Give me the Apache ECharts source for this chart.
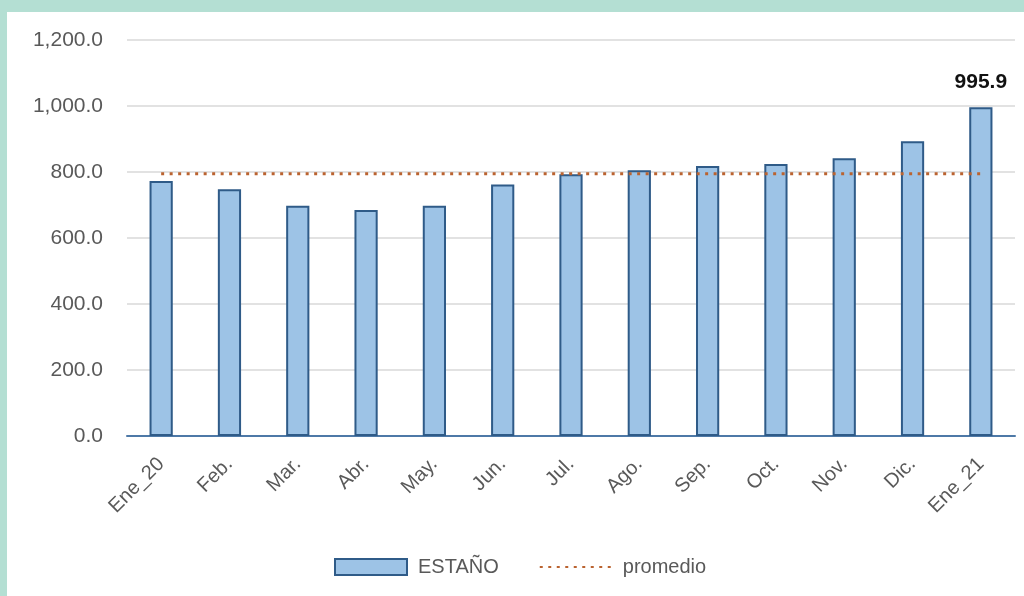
<!DOCTYPE html>
<html>
<head>
<meta charset="utf-8">
<script src="https://cdn.jsdelivr.net/npm/echarts@6/dist/echarts.min.js"></script>
<style>
  html, body { margin: 0; padding: 0; width: 1024px; height: 596px; background: #B4DFD3; overflow: hidden; }
  #chart { position: absolute; left: 7px; top: 12px; width: 1017px; height: 584px; background: #ffffff; }
</style>
</head>
<body>
<div id="chart"></div>
<script>
const categories = ['Ene_20', 'Feb.', 'Mar.', 'Abr.', 'May.', 'Jun.', 'Jul.', 'Ago.', 'Sep.', 'Oct.', 'Nov.', 'Dic.', 'Ene_21'];
const estanoValues = [773, 748, 698, 685, 698, 762, 793, 805, 818, 824, 842, 893, 995.9];
const promedioValues = [795, 795, 795, 795, 795, 795, 795, 795, 795, 795, 795, 795, 795];
const yTicks = [0, 200, 400, 600, 800, 1000, 1200];

const FONT = '"Liberation Sans", Arial, sans-serif';
const chart = echarts.init(document.getElementById('chart'));

const barData = estanoValues.map((v, i) => {
  if (i === estanoValues.length - 1) {
    return {
      value: v,
      label: {
        show: true, position: 'top', distance: 15,
        formatter: (p) => p.value.toFixed(1),
        color: '#111111', fontWeight: 'bold', fontSize: 21, fontFamily: FONT
      }
    };
  }
  return v;
});

chart.setOption({
  animation: false,
  grid: { left: 120, right: 9, top: 28, bottom: 160, containLabel: false },
  legend: {
    left: 322, top: 540,
    itemWidth: 72, itemHeight: 16, itemGap: 40,
    textStyle: { color: '#595959', fontSize: 20, fontFamily: FONT, padding: [0, 0, 0, 6] },
    data: [
      { name: 'ESTAÑO', icon: 'rect' },
      { name: 'promedio', itemStyle: { opacity: 0 } }
    ]
  },
  xAxis: {
    type: 'category',
    data: categories,
    axisLine: { show: true, lineStyle: { color: '#4E79A7', width: 2 } },
    axisTick: { show: false },
    axisLabel: { rotate: 45, margin: 25, color: '#595959', fontSize: 20, fontFamily: FONT, interval: 0 }
  },
  yAxis: {
    type: 'value',
    min: 0, max: 1200, interval: 200,
    axisLine: { show: false },
    axisTick: { show: false },
    splitLine: { lineStyle: { color: '#D9D9D9', width: 1.5 } },
    axisLabel: {
      margin: 24, color: '#595959', fontSize: 21, fontFamily: FONT,
      formatter: (v) => v.toLocaleString('en-US', { minimumFractionDigits: 1, maximumFractionDigits: 1 })
    }
  },
  series: [
    {
      name: 'ESTAÑO',
      type: 'bar',
      data: barData,
      barWidth: '34%',
      itemStyle: { color: '#9DC3E6', borderColor: '#2F5B88', borderWidth: 2 },
      z: 2
    },
    {
      name: 'promedio',
      type: 'line',
      data: promedioValues,
      symbol: 'none',
      lineStyle: { color: '#BA6330', width: 3, type: [3, 5.5], cap: 'butt' },
      itemStyle: { color: '#BA6330' },
      z: 3
    }
  ]
});
</script>
</body>
</html>
